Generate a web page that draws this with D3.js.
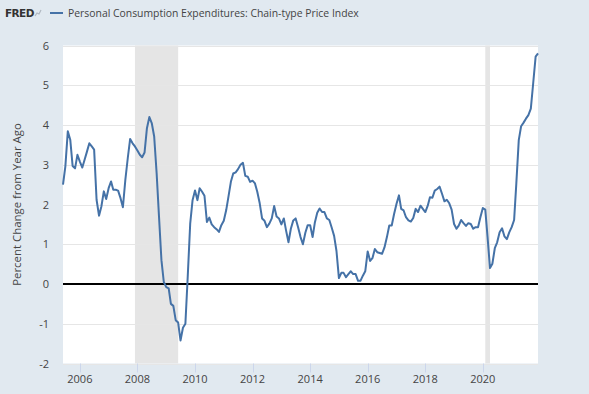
<!DOCTYPE html>
<html>
<head>
<meta charset="utf-8">
<script src="https://cdn.jsdelivr.net/npm/d3@7"></script>
<style>
  body { margin: 0; background: #e1e9f0; }
  svg { display: block; font-family: "Open Sans", sans-serif; }
</style>
</head>
<body>
<svg id="chart" width="589" height="394"></svg>
<script>
// monthly values, Jun 2005 .. Dec 2021
const startMonth = new Date(2005, 5, 1);
const pceYoY = [
  2.50, 2.96, 3.84, 3.63, 2.97, 2.91, 3.25,
  3.08, 2.93, 3.12, 3.33, 3.54, 3.46, 3.38, 2.12, 1.72, 1.95, 2.33, 2.14,
  2.41, 2.58, 2.37, 2.37, 2.35, 2.16, 1.93, 2.62, 3.17, 3.65, 3.54, 3.46,
  3.36, 3.25, 3.19, 3.31, 3.92, 4.20, 4.05, 3.71, 2.79, 1.70, 0.60, 0.05,
  -0.08, -0.11, -0.50, -0.55, -0.91, -0.97, -1.42, -1.10, -1.00, 0.20, 1.52, 2.11,
  2.35, 2.11, 2.41, 2.32, 2.22, 1.56, 1.67, 1.50, 1.43, 1.38, 1.31, 1.48,
  1.59, 1.86, 2.19, 2.57, 2.78, 2.81, 2.89, 3.00, 3.05, 2.72, 2.70, 2.57,
  2.60, 2.53, 2.32, 2.03, 1.65, 1.59, 1.43, 1.52, 1.65, 1.96, 1.70, 1.65,
  1.50, 1.65, 1.35, 1.05, 1.39, 1.60, 1.65, 1.43, 1.18, 1.00, 1.29, 1.48,
  1.48, 1.18, 1.54, 1.79, 1.90, 1.81, 1.81, 1.65, 1.61, 1.42, 1.21, 0.83,
  0.15, 0.28, 0.28, 0.17, 0.25, 0.32, 0.25, 0.25, 0.08, 0.08, 0.21, 0.32,
  0.82, 0.58, 0.65, 0.88, 0.80, 0.78, 0.76, 0.92, 1.18, 1.47, 1.47, 1.76,
  2.02, 2.23, 1.89, 1.85, 1.68, 1.60, 1.57, 1.66, 1.89, 1.81, 1.97, 1.89,
  1.81, 1.97, 2.18, 2.17, 2.35, 2.39, 2.45, 2.27, 2.08, 2.12, 2.03, 1.87,
  1.51, 1.39, 1.47, 1.61, 1.53, 1.46, 1.53, 1.51, 1.39, 1.43, 1.43, 1.68,
  1.91, 1.87, 1.18, 0.40, 0.51, 0.90, 1.05, 1.30, 1.40, 1.20, 1.13, 1.30,
  1.43, 1.61, 2.53, 3.62, 3.97, 4.06, 4.16, 4.25, 4.41, 5.05, 5.72, 5.80
];
const recessions = [["2007-12-01", "2009-06-01"], ["2020-02-01", "2020-04-01"]];
const yTicks = [-2, -1, 0, 1, 2, 3, 4, 5, 6];
const xTickYears = [2006, 2008, 2010, 2012, 2014, 2016, 2018, 2020];
const seriesName = "Personal Consumption Expenditures: Chain-type Price Index";
const yTitle = "Percent Change from Year Ago";

const svg = d3.select("#chart");
const plot = { left: 63, right: 538, top: 45.5, bottom: 363.5 };
const textColor = "#444";

const data = pceYoY.map((v, i) => ({ date: d3.timeMonth.offset(startMonth, i), value: v }));
const parse = d3.timeParse("%Y-%m-%d");

const x = d3.scaleTime()
  .domain(d3.extent(data, d => d.date))
  .range([plot.left, plot.right]);
const y = d3.scaleLinear()
  .domain([-2, 6])
  .range([plot.bottom, plot.top]);

// plot background
svg.append("rect")
  .attr("x", plot.left).attr("y", plot.top)
  .attr("width", plot.right - plot.left).attr("height", plot.bottom - plot.top)
  .attr("fill", "#fff");

// recession bars
svg.append("g").selectAll("rect").data(recessions).enter().append("rect")
  .attr("x", d => x(parse(d[0])))
  .attr("y", plot.top)
  .attr("width", d => x(parse(d[1])) - x(parse(d[0])))
  .attr("height", plot.bottom - plot.top)
  .attr("fill", "#e5e5e5");

// horizontal grid
svg.append("g").selectAll("line").data(yTicks.filter(t => t !== 0)).enter().append("line")
  .attr("x1", plot.left).attr("x2", plot.right)
  .attr("y1", d => Math.round(y(d)) + 0.5).attr("y2", d => Math.round(y(d)) + 0.5)
  .attr("stroke", "#e6e6e6").attr("stroke-width", 1);

// y labels
svg.append("g").selectAll("text").data(yTicks).enter().append("text")
  .attr("x", 49).attr("y", d => y(d) + 4)
  .attr("text-anchor", "end")
  .attr("font-size", 11).attr("fill", textColor)
  .text(d => d);

// x ticks
const xTicks = xTickYears.map(yr => new Date(yr, 0, 1));
svg.append("g").selectAll("line").data(xTicks).enter().append("line")
  .attr("x1", d => Math.round(x(d)) + 0.5).attr("x2", d => Math.round(x(d)) + 0.5)
  .attr("y1", plot.bottom).attr("y2", plot.bottom + 9)
  .attr("stroke", "#ccd6eb");
svg.append("g").selectAll("text").data(xTicks).enter().append("text")
  .attr("x", d => x(d)).attr("y", 383)
  .attr("text-anchor", "middle")
  .attr("font-size", 11).attr("fill", textColor)
  .text(d => d3.timeFormat("%Y")(d));

// zero line
svg.append("line")
  .attr("x1", plot.left).attr("x2", plot.right)
  .attr("y1", y(0)).attr("y2", y(0))
  .attr("stroke", "#000").attr("stroke-width", 2);

// series line
const line = d3.line().x(d => x(d.date)).y(d => y(d.value));
svg.append("path").datum(data)
  .attr("d", line)
  .attr("fill", "none")
  .attr("stroke", "#4572a7")
  .attr("stroke-width", 2)
  .attr("stroke-linejoin", "round");

// y axis title
svg.append("text")
  .attr("transform", `translate(21,${(plot.top + plot.bottom) / 2}) rotate(-90)`)
  .attr("text-anchor", "middle")
  .attr("font-size", 11.4).attr("fill", textColor)
  .text(yTitle);

// header: FRED logo + legend
svg.append("text")
  .attr("x", 5).attr("y", 17)
  .attr("font-family", "'DejaVu Sans', sans-serif")
  .attr("font-size", 10.5).attr("font-weight", "bold")
  .attr("fill", "#333").attr("letter-spacing", -0.6)
  .text("FRED");
svg.append("path")
  .attr("d", "M35,16 L37,13 L39,14 L41,10")
  .attr("fill", "none").attr("stroke", "#b0b8c0").attr("stroke-width", 1.2);
svg.append("line")
  .attr("x1", 50).attr("x2", 63).attr("y1", 13).attr("y2", 13)
  .attr("stroke", "#4572a7").attr("stroke-width", 2);
svg.append("text")
  .attr("x", 68).attr("y", 17)
  .attr("font-size", 10.4).attr("fill", textColor)
  .text(seriesName);
</script>
</body>
</html>
